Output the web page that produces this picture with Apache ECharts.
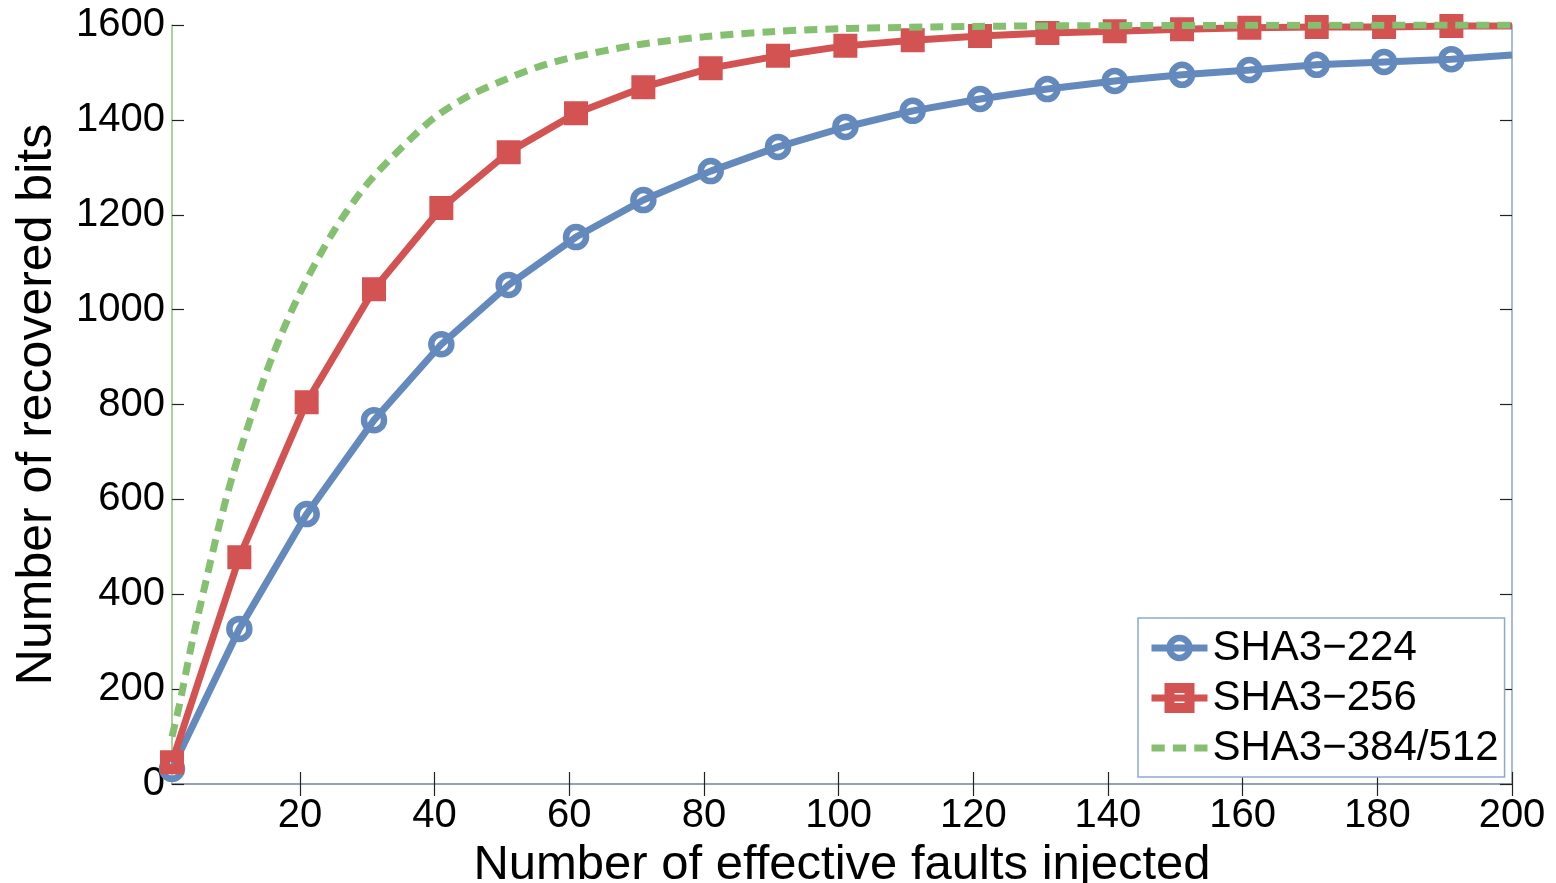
<!DOCTYPE html>
<html>
<head>
<meta charset="utf-8">
<script src="https://cdn.jsdelivr.net/npm/echarts@6/dist/echarts.min.js"></script>
<style>
html,body{margin:0;padding:0;background:#fff;}
#chart{width:1556px;height:883px;}
</style>
</head>
<body>
<div id="chart"></div>
<script>
// ---- data ----
const markerX = [1, 11, 21, 31, 41, 51, 61, 71, 81, 91, 101, 111, 121, 131, 141, 151, 161, 171, 181, 191];
const sha224 = [32, 327, 569, 767, 927, 1052, 1153, 1231, 1292, 1343, 1385, 1419, 1444, 1465, 1482, 1495, 1505, 1516, 1522, 1528];
const sha224End = [200, 1537];
const sha256 = [46, 478, 805, 1043, 1214, 1332, 1414, 1469, 1509, 1535, 1556, 1568, 1577, 1583, 1587, 1591, 1594, 1596, 1596, 1598];
const sha256End = [200, 1598];
const sha384X = [1, 2, 4, 6, 8, 10, 13, 16, 20, 25, 30, 35, 40, 45, 50, 55, 60, 70, 80, 90, 100, 120, 150, 200];
const sha384 = [100, 160, 300, 425, 545, 650, 785, 905, 1035, 1165, 1265, 1340, 1405, 1450, 1482, 1510, 1530, 1558, 1575, 1586, 1592, 1597, 1599, 1600];
const xTicks = [20, 40, 60, 80, 100, 120, 140, 160, 180, 200];
const seriesNames = ['SHA3\u2212224', 'SHA3\u2212256', 'SHA3\u2212384/512'];

const BLUE = '#6389bd', RED = '#d35353', GREEN = '#84c06f';
const FONT = '"Liberation Sans", Arial, sans-serif';

function withEnd(vals, end) {
  const d = markerX.map((x, i) => [x, vals[i]]);
  d.push({ value: end, symbol: 'none' });
  return d;
}

const chart = echarts.init(document.getElementById('chart'), null, { renderer: 'canvas' });

const tickStyle = { color: '#222', width: 1.2 };

chart.setOption({
  backgroundColor: '#fff',
  animation: false,
  grid: { left: 172, right: 44, top: 25, bottom: 99, containLabel: false, outerBoundsMode: 'none' },
  xAxis: [{
    type: 'value', min: 1, max: 200, position: 'bottom',
    name: 'Number of effective faults injected', nameLocation: 'middle', nameGap: 45,
    nameTextStyle: { fontFamily: FONT, fontSize: 49, color: '#000' },
    axisLine: { show: true, lineStyle: { color: '#222', width: 1.5 } },
    axisTick: { show: true, inside: true, length: 12, lineStyle: tickStyle, customValues: xTicks },
    axisLabel: { fontFamily: FONT, fontSize: 40, color: '#000', margin: 12, customValues: xTicks, formatter: v => String(v) },
    splitLine: { show: false }
  }, {
    type: 'value', min: 1, max: 200, position: 'top',
    axisLine: { show: true, lineStyle: { color: '#a4b9d6', width: 1.5 } },
    axisTick: { show: true, inside: true, length: 12, lineStyle: tickStyle, customValues: xTicks },
    axisLabel: { show: false },
    splitLine: { show: false }
  }],
  yAxis: [{
    type: 'value', min: 0, max: 1600, interval: 200, position: 'left',
    name: 'Number of recovered bits', nameLocation: 'middle', nameGap: 110,
    nameTextStyle: { fontFamily: FONT, fontSize: 50, color: '#000' },
    axisLine: { show: true, lineStyle: { color: '#8cc47a', width: 1.5 } },
    axisTick: { show: true, inside: true, length: 12, lineStyle: tickStyle },
    axisLabel: { fontFamily: FONT, fontSize: 40, color: '#000', margin: 7, formatter: v => String(v) },
    splitLine: { show: false }
  }, {
    type: 'value', min: 0, max: 1600, interval: 200, position: 'right',
    axisLine: { show: true, lineStyle: { color: '#8aa6d0', width: 1.5 } },
    axisTick: { show: true, inside: true, length: 12, lineStyle: tickStyle },
    axisLabel: { show: false },
    splitLine: { show: false }
  }],
  legend: {
    orient: 'vertical', left: 1138, top: 618,
    padding: [7, 6, 6, 10],
    itemGap: 4,
    itemWidth: 56, itemHeight: 25,
    backgroundColor: '#fff',
    borderColor: '#8fa8d0', borderWidth: 1.5, borderRadius: 0,
    textStyle: { fontFamily: FONT, fontSize: 42, color: '#000', lineHeight: 46, padding: [0, 0, 0, 0] },
    data: [
      { name: seriesNames[0], itemStyle: { color: 'rgba(255,255,255,0)', borderColor: BLUE, borderWidth: 6.5 }, lineStyle: { color: BLUE, width: 7 } },
      { name: seriesNames[1], itemStyle: { color: 'rgba(255,255,255,0)', borderColor: RED, borderWidth: 10 }, lineStyle: { color: RED, width: 7 } },
      { name: seriesNames[2], icon: 'path://M0,0h13v7h-13z M21,0h13v7h-13z M42,0h13v7h-13z', itemStyle: { color: GREEN, borderWidth: 0 } }
    ]
  },
  series: [{
    name: seriesNames[0], type: 'line', clip: false, z: 2,
    data: withEnd(sha224, sha224End),
    symbol: 'circle', symbolSize: 20,
    lineStyle: { color: BLUE, width: 7 },
    itemStyle: { color: 'rgba(255,255,255,0)', borderColor: BLUE, borderWidth: 6.5 }
  }, {
    name: seriesNames[1], type: 'line', clip: false, z: 3,
    data: withEnd(sha256, sha256End),
    symbol: 'rect', symbolSize: 14,
    lineStyle: { color: RED, width: 7 },
    itemStyle: { color: 'rgba(255,255,255,0)', borderColor: RED, borderWidth: 10 }
  }, {
    name: seriesNames[2], type: 'line', clip: true, z: 4,
    data: sha384X.map((x, i) => [x, sha384[i]]),
    smooth: 0.3, showSymbol: false, symbol: 'none',
    lineStyle: { color: GREEN, width: 7, type: [13, 8] },
    itemStyle: { color: GREEN }
  }]
});
</script>
</body>
</html>
